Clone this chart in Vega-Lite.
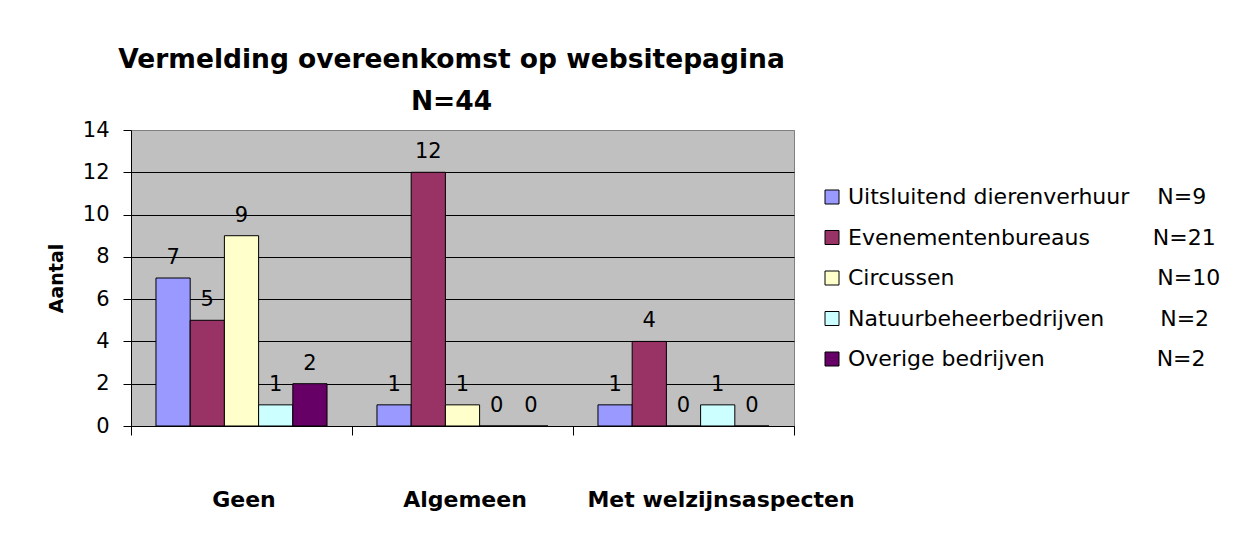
{
  "$schema": "https://vega.github.io/schema/vega-lite/v6.json",
  "width": 663,
  "height": 296,
  "padding": {"left": 47, "top": 46, "right": 5, "bottom": 5},
  "background": "white",
  "title": {
    "text": ["Vermelding overeenkomst op websitepagina", "N=44"],
    "font": "DejaVu Sans",
    "fontSize": 26.5,
    "fontWeight": "bold",
    "color": "black",
    "anchor": "middle",
    "frame": "group",
    "lineHeight": 42,
    "offset": 4,
    "dx": -11
  },
  "data": {
    "values": [
      {"cat": "Geen", "series": "Uitsluitend dierenverhuur", "value": 7},
      {"cat": "Geen", "series": "Evenementenbureaus", "value": 5},
      {"cat": "Geen", "series": "Circussen", "value": 9},
      {"cat": "Geen", "series": "Natuurbeheerbedrijven", "value": 1},
      {"cat": "Geen", "series": "Overige bedrijven", "value": 2},
      {"cat": "Algemeen", "series": "Uitsluitend dierenverhuur", "value": 1},
      {"cat": "Algemeen", "series": "Evenementenbureaus", "value": 12},
      {"cat": "Algemeen", "series": "Circussen", "value": 1},
      {"cat": "Algemeen", "series": "Natuurbeheerbedrijven", "value": 0},
      {"cat": "Algemeen", "series": "Overige bedrijven", "value": 0},
      {"cat": "Met welzijnsaspecten", "series": "Uitsluitend dierenverhuur", "value": 1},
      {"cat": "Met welzijnsaspecten", "series": "Evenementenbureaus", "value": 4},
      {"cat": "Met welzijnsaspecten", "series": "Circussen", "value": 0},
      {"cat": "Met welzijnsaspecten", "series": "Natuurbeheerbedrijven", "value": 1},
      {"cat": "Met welzijnsaspecten", "series": "Overige bedrijven", "value": 0}
    ]
  },
  "encoding": {
    "x": {
      "field": "cat",
      "type": "nominal",
      "sort": ["Geen", "Algemeen", "Met welzijnsaspecten"],
      "scale": {"paddingInner": 0, "paddingOuter": 0},
      "axis": {
        "title": null,
        "labelAngle": 0,
        "labelFont": "DejaVu Sans",
        "labelFontSize": 22,
        "labelFontWeight": "bold",
        "labelColor": "black",
        "labelPadding": 54,
        "labelLimit": 600,
        "labelOffset": {"condition": {"test": "datum.value === 'Met welzijnsaspecten'", "value": 37}, "value": 2},
        "tickBand": "extent",
        "tickSize": 9,
        "tickColor": "black",
        "domainColor": "black",
        "grid": false
      }
    },
    "xOffset": {
      "field": "series",
      "type": "nominal",
      "sort": ["Uitsluitend dierenverhuur", "Evenementenbureaus", "Circussen", "Natuurbeheerbedrijven", "Overige bedrijven"],
      "scale": {"paddingInner": 0, "paddingOuter": 0.73}
    },
    "y": {
      "field": "value",
      "type": "quantitative",
      "scale": {"domain": [0, 14], "nice": false},
      "axis": {
        "title": "Aantal",
        "titleFont": "DejaVu Sans",
        "titleFontSize": 19,
        "titleFontWeight": "bold",
        "titleColor": "black",
        "titlePadding": 16,
        "values": [0, 2, 4, 6, 8, 10, 12, 14],
        "labelFont": "DejaVu Sans",
        "labelFontSize": 21,
        "labelColor": "black",
        "labelPadding": 14,
        "tickSize": 8,
        "tickColor": "black",
        "domainColor": "black",
        "grid": true,
        "gridColor": {"condition": {"test": "datum.value === 14", "value": "#808080"}, "value": "black"},
        "gridWidth": 1
      }
    }
  },
  "layer": [
    {
      "mark": {"type": "bar", "stroke": "black", "strokeWidth": 1},
      "encoding": {
        "color": {
          "field": "series",
          "type": "nominal",
          "sort": ["Uitsluitend dierenverhuur", "Evenementenbureaus", "Circussen", "Natuurbeheerbedrijven", "Overige bedrijven"],
          "scale": {
            "domain": ["Uitsluitend dierenverhuur", "Evenementenbureaus", "Circussen", "Natuurbeheerbedrijven", "Overige bedrijven"],
            "range": ["#9999FF", "#993366", "#FFFFCC", "#CCFFFF", "#660066"]
          },
          "legend": {
            "title": null,
            "orient": "none",
            "legendX": 690,
            "legendY": 56,
            "symbolType": "square",
            "symbolSize": 196,
            "symbolStrokeColor": "black",
            "symbolStrokeWidth": 1,
            "symbolOpacity": 1,
            "labelFont": "DejaVu Sans",
            "labelFontSize": 22,
            "labelColor": "black",
            "labelOffset": 5,
            "labelLimit": 600,
            "rowPadding": 18.5,
            "labelExpr": "datum.label == 'Uitsluitend dierenverhuur' ? 'Uitsluitend dierenverhuur\u00a0\u00a0\u00a0\u00a0N=9' : datum.label == 'Evenementenbureaus' ? 'Evenementenbureaus\u00a0\u00a0\u00a0\u00a0\u00a0\u00a0\u00a0\u00a0\u00a0N=21' : datum.label == 'Circussen' ? 'Circussen\u00a0\u00a0\u00a0\u00a0\u00a0\u00a0\u00a0\u00a0\u00a0\u00a0\u00a0\u00a0\u00a0\u00a0\u00a0\u00a0\u00a0\u00a0\u00a0\u00a0\u00a0\u00a0\u00a0\u00a0\u00a0\u00a0\u00a0\u00a0\u00a0N=10' : datum.label == 'Natuurbeheerbedrijven' ? 'Natuurbeheerbedrijven\u00a0\u00a0\u00a0\u00a0\u00a0\u00a0\u00a0\u00a0N=2' : 'Overige bedrijven\u00a0\u00a0\u00a0\u00a0\u00a0\u00a0\u00a0\u00a0\u00a0\u00a0\u00a0\u00a0\u00a0\u00a0\u00a0\u00a0N=2'"
          }
        }
      }
    },
    {
      "mark": {"type": "text", "font": "DejaVu Sans", "fontSize": 21, "baseline": "alphabetic", "dy": -14, "color": "black"},
      "encoding": {
        "text": {"field": "value", "type": "quantitative"}
      }
    }
  ],
  "config": {
    "view": {"fill": "#C0C0C0", "stroke": "#808080", "strokeWidth": 1}
  }
}
